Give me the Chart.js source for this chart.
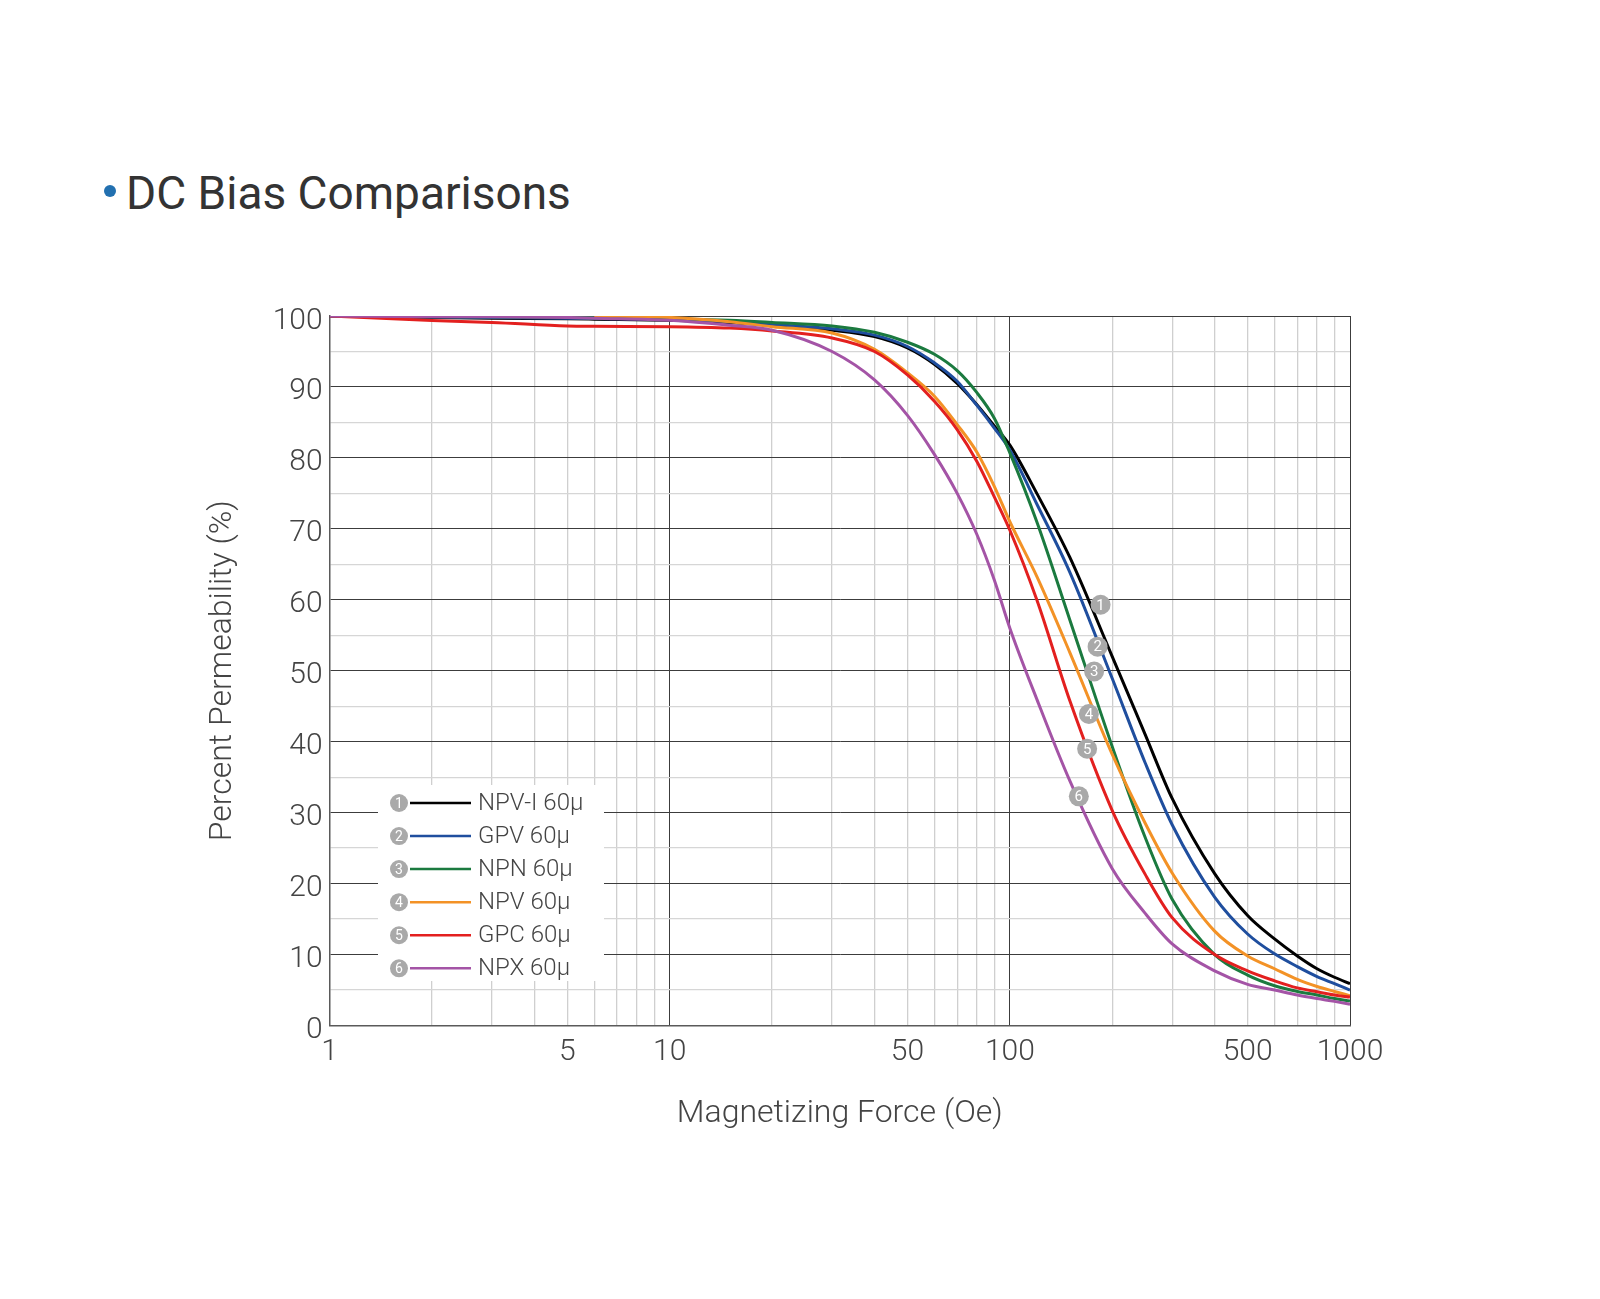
<!DOCTYPE html>
<html>
<head>
<meta charset="utf-8">
<title>DC Bias Comparisons</title>
<script src="https://cdn.jsdelivr.net/npm/chart.js@4.4.1/dist/chart.umd.min.js"></script>
<style>
    html, body { margin: 0; padding: 0; background: #fff; }
    #page { position: relative; width: 1600px; height: 1299px; overflow: hidden; }
    #chartBox { position: absolute; left: 0; top: 0; width: 1600px; height: 1299px; }
    h1 { position: absolute; left: 126px; top: 170px; margin: 0; font: 400 46px/46px Roboto, sans-serif; color: #333; white-space: nowrap; }
    .dot { position: absolute; left: 104px; top: 185px; width: 12px; height: 12px; border-radius: 50%; background: #2270b0; }
</style>
</head>
<body>
<div id="page">
    <div class="dot"></div>
    <h1>DC Bias Comparisons</h1>
    <div id="chartBox"><canvas id="dcBiasChart"></canvas></div>
</div>
<script>
// magnetizing force (Oe) sample points shared by every curve
const forceOe = [1, 2, 3, 5, 6, 10, 15, 20, 30, 40, 50, 60, 70, 80, 90, 100, 120, 150, 200, 250, 300, 400, 500, 600, 700, 800, 900, 1000];

// percent permeability
const npvI60 = [100, 99.8, 99.7, 99.6, 99.55, 99.4, 99.1, 98.7, 98.0, 97.1, 95.5, 93.2, 90.5, 87.5, 84.5, 81.8, 75.0, 66.0, 52.0, 41.0, 32.0, 21.4, 15.5, 12.2, 9.8, 8.0, 6.8, 5.9];
const gpv60 = [100, 99.85, 99.8, 99.7, 99.65, 99.5, 99.2, 98.8, 98.2, 97.3, 95.7, 93.4, 90.8, 87.4, 84.2, 81.1, 73.5, 63.9, 48.9, 37.0, 28.3, 18.1, 12.9, 10.1, 8.3, 6.9, 5.9, 5.0];
const npn60 = [100, 99.9, 99.9, 99.8, 99.75, 99.6, 99.4, 99.1, 98.6, 97.7, 96.3, 94.6, 92.3, 89.2, 85.6, 80.7, 71.0, 57.2, 39.3, 26.5, 17.8, 10.0, 7.1, 5.6, 4.8, 4.3, 3.8, 3.45];
const npv60 = [null, null, null, null, 100, 99.8, 99.2, 98.5, 97.6, 95.3, 92.0, 88.7, 84.7, 80.8, 76.0, 71.0, 63.3, 52.6, 38.2, 28.5, 21.5, 13.3, 9.8, 8.0, 6.5, 5.5, 4.8, 4.2];
const gpc60 = [100, 99.35, 99.1, 98.6, 98.55, 98.5, 98.3, 97.9, 96.9, 95.0, 91.7, 88.0, 84.0, 79.5, 74.5, 69.8, 60.0, 45.8, 30.3, 21.3, 15.2, 10.0, 7.7, 6.3, 5.3, 4.75, 4.3, 4.0];
const npx60 = [100, 99.9, 99.9, 99.8, 99.7, 99.4, 98.7, 98.0, 95.0, 91.0, 86.0, 80.5, 75.0, 69.2, 62.8, 56.0, 46.0, 34.5, 22.1, 15.8, 11.5, 7.7, 5.8, 5.0, 4.3, 3.8, 3.4, 3.0];

const seriesNames = ['NPV-I 60\u00b5', 'GPV 60\u00b5', 'NPN 60\u00b5', 'NPV 60\u00b5', 'GPC 60\u00b5', 'NPX 60\u00b5'];
const seriesValues = [npvI60, gpv60, npn60, npv60, gpc60, npx60];
const seriesColors = ['#000000', '#1f4e9e', '#1b7a3f', '#f39226', '#e3201f', '#a454a6'];

// numbered callouts sitting on the curves
const markerForce = [184.8, 181.1, 176.9, 170.7, 168.7, 159.5];
const markerPercent = [59.3, 53.4, 49.9, 43.9, 39.0, 32.3];

const xLabelValues = [1, 5, 10, 50, 100, 500, 1000];
const xGridValues = [];
[1, 10, 100].forEach((decade) => {
    for (let i = 1; i < 10; i++) xGridValues.push(decade * i);
});
xGridValues.push(1000);

const tickFont = { family: 'Roboto', size: 30, weight: 300 };
const titleFont = { family: 'Roboto', size: 32, weight: 300 };
const markerGray = '#a9a9a9';

const curveSets = seriesValues.map((values, i) => ({
    label: seriesNames[i],
    data: forceOe.map((x, k) => ({ x, y: values[k] })).filter((p) => p.y !== null),
    showLine: true,
    borderColor: seriesColors[i],
    backgroundColor: seriesColors[i],
    borderWidth: 3,
    pointRadius: 0,
    cubicInterpolationMode: 'monotone',
    order: 6 - i
}));

const markerSet = {
    label: 'markers',
    data: markerForce.map((x, i) => ({ x, y: markerPercent[i] })),
    showLine: false,
    pointRadius: 10,
    pointBackgroundColor: markerGray,
    pointBorderWidth: 0,
    order: -1
};

const markerNumbers = {
    id: 'markerNumbers',
    afterDatasetsDraw(chart) {
        const ctx = chart.ctx;
        const meta = chart.getDatasetMeta(curveSets.length);
        ctx.save();
        ctx.font = '400 15px Roboto';
        ctx.fillStyle = '#fff';
        ctx.textAlign = 'center';
        ctx.textBaseline = 'middle';
        meta.data.forEach((pt, i) => ctx.fillText(String(i + 1), pt.x, pt.y + 1));
        ctx.restore();
    }
};

const insideLegend = {
    id: 'insideLegend',
    afterDraw(chart) {
        const ctx = chart.ctx;
        ctx.save();
        ctx.fillStyle = '#fff';
        ctx.fillRect(378, 785, 226, 196);
        seriesNames.forEach((name, i) => {
            const y = 803 + i * 33.06;
            ctx.beginPath();
            ctx.arc(399, y, 9, 0, Math.PI * 2);
            ctx.fillStyle = markerGray;
            ctx.fill();
            ctx.fillStyle = '#fff';
            ctx.font = '400 14px Roboto';
            ctx.textAlign = 'center';
            ctx.textBaseline = 'middle';
            ctx.fillText(String(i + 1), 399, y + 1);

            ctx.beginPath();
            ctx.moveTo(410, y);
            ctx.lineTo(471, y);
            ctx.strokeStyle = seriesColors[i];
            ctx.lineWidth = 2.5;
            ctx.stroke();

            ctx.fillStyle = '#444';
            ctx.font = '300 24px Roboto';
            ctx.textAlign = 'left';
            ctx.fillText(name, 478, y + 1);
        });
        ctx.restore();
    }
};

new Chart(document.getElementById('dcBiasChart'), {
    type: 'scatter',
    data: { datasets: [...curveSets, markerSet] },
    plugins: [markerNumbers, insideLegend],
    options: {
        responsive: true,
        maintainAspectRatio: false,
        animation: false,
        events: [],
        layout: { padding: { left: 0, top: 316, right: 250, bottom: 153.5 } },
        plugins: { legend: { display: false }, tooltip: { enabled: false } },
        scales: {
            x: {
                type: 'logarithmic',
                min: 1,
                max: 1000,
                afterBuildTicks: (scale) => { scale.ticks = xGridValues.map((v) => ({ value: v })); },
                afterFit: (scale) => { scale.height = 120; },
                ticks: {
                    autoSkip: false,
                    maxRotation: 0,
                    padding: 9,
                    color: '#444',
                    font: tickFont,
                    callback: (value) => (xLabelValues.includes(value) ? String(value) : '')
                },
                grid: {
                    drawTicks: false,
                    color: (c) => (Number.isInteger(Math.log10(c.tick.value)) ? '#3c3c3c' : '#cfcfcf'),
                    lineWidth: (c) => (Number.isInteger(Math.log10(c.tick.value)) ? 1 : 1.3)
                },
                border: { color: '#5a5a5a', width: 1.5 },
                title: {
                    display: true,
                    text: 'Magnetizing Force (Oe)',
                    color: '#444',
                    font: titleFont,
                    padding: { top: 0, bottom: 12 }
                }
            },
            y: {
                min: 0,
                max: 100,
                afterFit: (scale) => { scale.width = 329.6; },
                ticks: {
                    stepSize: 5,
                    autoSkip: false,
                    padding: 7,
                    labelOffset: 5,
                    color: '#444',
                    font: tickFont,
                    callback: (value) => (value % 10 === 0 ? String(value) : '')
                },
                grid: {
                    drawTicks: false,
                    color: (c) => (c.tick.value % 10 === 0 ? '#3c3c3c' : '#d6d6d6'),
                    lineWidth: (c) => (c.tick.value % 10 === 0 ? 1 : 1.3)
                },
                border: { color: '#5a5a5a', width: 1.5 },
                title: {
                    display: true,
                    text: 'Percent Permeability (%)',
                    color: '#444',
                    font: titleFont,
                    padding: { top: 204, bottom: 0 }
                }
            }
        }
    }
});
</script>
</body>
</html>
